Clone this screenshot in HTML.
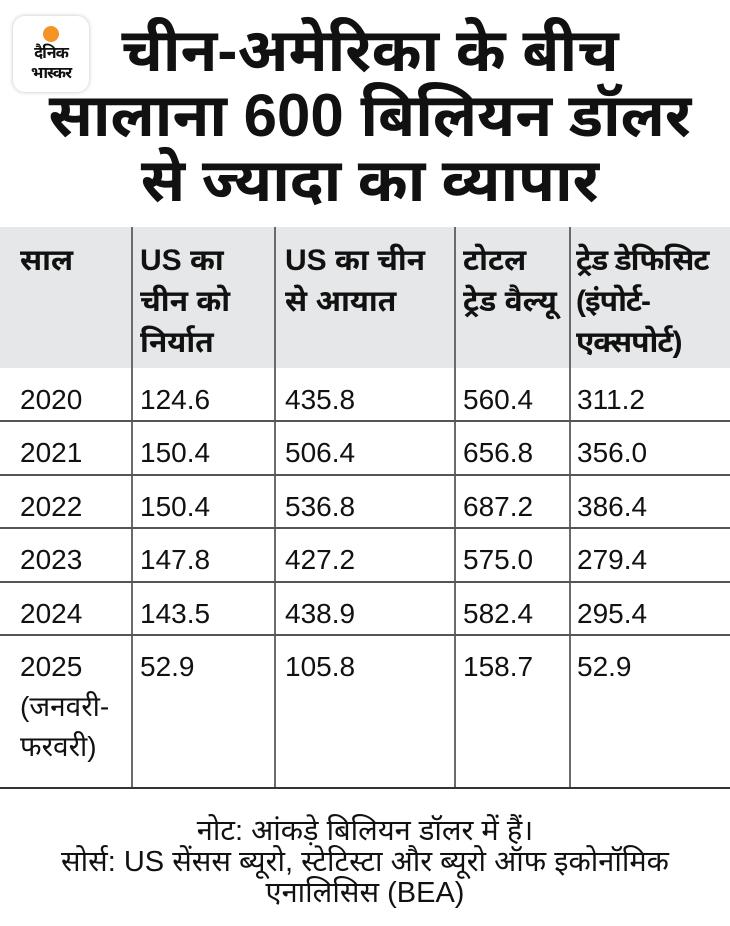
<!DOCTYPE html>
<html><head><meta charset="utf-8">
<style>
body{margin:0;width:730px;height:926px;background:#fff;font-family:"Liberation Sans","Noto Sans Devanagari","Lohit Devanagari",sans-serif;color:#111;position:relative;overflow:hidden}
.logo{position:absolute;left:13px;top:16px;width:76px;height:76px;border-radius:12px;background:#fff;box-shadow:0 0 4px rgba(0,0,0,.25);text-align:center}
.logo .sun{width:16px;height:16px;border-radius:50%;background:#f39425;margin:10px auto 2px}
.logo .t{font-size:16px;font-weight:bold;line-height:20px;letter-spacing:-1px}
.title{position:absolute;left:0;width:740px;top:18px;text-align:center;font-size:60px;font-weight:bold;line-height:65px;white-space:nowrap}
.hdr{position:absolute;left:0;top:227px;width:730px;height:141px;background:#e6e7e9}
.vl{position:absolute;top:227px;height:561px;width:2px;background:#6b6b6b}
.hl{position:absolute;left:0;width:730px;height:2px;background:#555}
.c{position:absolute;font-size:28px;line-height:40px;white-space:nowrap}
.h{font-weight:bold;font-size:30px;line-height:41px}
.note{position:absolute;top:816px;left:0;width:730px;text-align:center;font-size:29px;line-height:31px;white-space:nowrap}
</style></head><body>
<div class="logo"><div class="sun"></div><div class="t">दैनिक<br>भास्कर</div></div>
<div class="title">चीन-अमेरिका के बीच<br>सालाना 600 बिलियन डॉलर<br>से ज्यादा का व्यापार</div>
<div class="hdr"></div>
<div class="vl" style="left:131px"></div>
<div class="vl" style="left:274px"></div>
<div class="vl" style="left:454px"></div>
<div class="vl" style="left:569px"></div>
<div class="c h" style="left:20px;top:240px">साल</div>
<div class="c h" style="left:140px;top:240px">US का<br>चीन को<br>निर्यात</div>
<div class="c h" style="left:285px;top:240px">US का चीन<br>से आयात</div>
<div class="c h" style="left:463px;top:240px">टोटल<br>ट्रेड वैल्यू</div>
<div class="c h" style="left:576px;top:240px;letter-spacing:-1px">ट्रेड डेफिसिट<br>(इंपोर्ट-<br>एक्सपोर्ट)</div>
<div id="rows"></div>
<div class="hl" style="top:787px;background:#333"></div>
<div class="note">नोट: आंकड़े बिलियन डॉलर में हैं।<br>सोर्स: US सेंसस ब्यूरो, स्टेटिस्टा और ब्यूरो ऑफ इकोनॉमिक<br>एनालिसिस (BEA)</div>
<script>
const years=["2020","2021","2022","2023","2024","2025<br>(जनवरी-<br>फरवरी)"];
const exportsV=["124.6","150.4","150.4","147.8","143.5","52.9"];
const importsV=["435.8","506.4","536.8","427.2","438.9","105.8"];
const totalV=["560.4","656.8","687.2","575.0","582.4","158.7"];
const deficitV=["311.2","356.0","386.4","279.4","295.4","52.9"];
const root=document.getElementById('rows');
const xs=[20,140,285,463,577];
years.forEach((y,i)=>{
  const top=368+i*53.4;
  if(i>0){const l=document.createElement('div');l.className='hl';l.style.top=(top-1)+'px';
  
  
  root.appendChild(l);}
  [y,exportsV[i],importsV[i],totalV[i],deficitV[i]].forEach((v,j)=>{
    const d=document.createElement('div');d.className='c';d.style.left=xs[j]+'px';d.style.top=(top+12)+'px';d.innerHTML=v;
    
    
    root.appendChild(d);
  });
});
</script>
</body></html>
